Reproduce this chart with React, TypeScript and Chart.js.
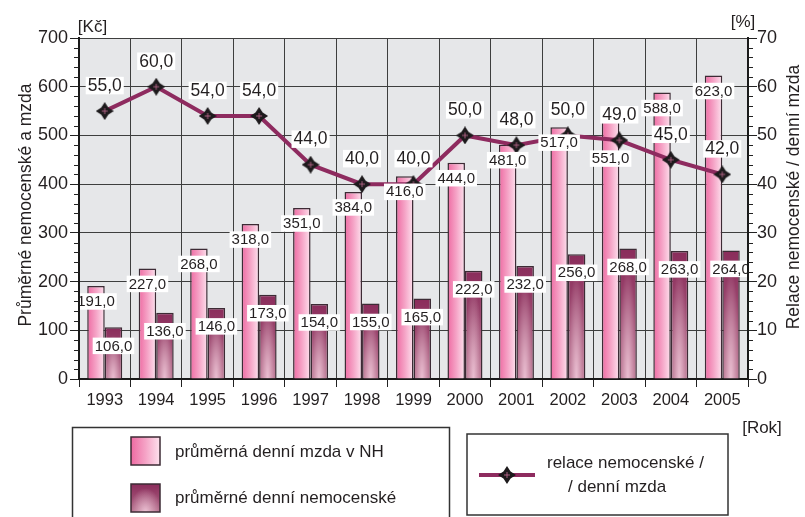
import React, { useEffect, useRef } from 'react';
import { Chart, registerables } from 'chart.js';

Chart.register(...registerables);

// ---- data ----
const years = ['1993', '1994', '1995', '1996', '1997', '1998', '1999', '2000', '2001', '2002', '2003', '2004', '2005'];
const dailyWage = [191, 227, 268, 318, 351, 384, 416, 444, 481, 517, 551, 588, 623];
const sickPay = [106, 136, 146, 173, 154, 155, 165, 222, 232, 256, 268, 263, 264];
const ratio = [55, 60, 54, 54, 44, 40, 40, 50, 48, 50, 49, 45, 42];

const wageName = 'průměrná denní mzda v NH';
const sickName = 'průměrné denní nemocenské';
const ratioNameLines = ['relace nemocenské /', '/ denní mzda'];
const leftTitle = 'Průměrné nemocenské a mzda';
const rightTitle = 'Relace nemocenské / denní mzda';
const leftUnit = '[Kč]';
const rightUnit = '[%]';
const xUnit = '[Rok]';

// ---- styles ----
const FONT = "'Liberation Sans', Arial, Helvetica, sans-serif";
const TEXT = '#231f20';
const CAT_PCT = 0.68;
const LINE_COLOR = '#8e2b5f';
const BAR_BORDER = '#3d2b35';
const GRID = '#3e3e3e';

const fmt = (v: number) => v.toFixed(1).replace('.', ',');

function makeStar(size: number) {
  const c = document.createElement('canvas');
  c.width = size;
  c.height = size;
  const g = c.getContext('2d')!;
  const h = size / 2;
  const k = size * 0.2;
  g.beginPath();
  g.moveTo(h, 0);
  g.lineTo(h + k, h - k);
  g.lineTo(size, h);
  g.lineTo(h + k, h + k);
  g.lineTo(h, size);
  g.lineTo(h - k, h + k);
  g.lineTo(0, h);
  g.lineTo(h - k, h - k);
  g.closePath();
  g.fillStyle = '#1d1a1c';
  g.fill();
  g.strokeStyle = 'rgba(200,110,150,0.8)';
  g.lineWidth = 1;
  g.beginPath();
  g.moveTo(h, h - 3);
  g.lineTo(h, h + 3);
  g.moveTo(h - 3, h);
  g.lineTo(h + 3, h);
  g.stroke();
  return c;
}

function pinkGradient(ctx: CanvasRenderingContext2D, x0: number, x1: number) {
  const gr = ctx.createLinearGradient(x0, 0, x1, 0);
  gr.addColorStop(0, '#ee6aa2');
  gr.addColorStop(0.5, '#f5a3c6');
  gr.addColorStop(1, '#fde2ee');
  return gr;
}

function darkCanvas(W: number, H: number) {
  const off = document.createElement('canvas');
  off.width = Math.max(1, W);
  off.height = Math.max(1, H);
  const g = off.getContext('2d')!;
  const lin = g.createLinearGradient(0, 0, 0, H);
  lin.addColorStop(0, '#8a2c5b');
  lin.addColorStop(1, '#b06886');
  g.fillStyle = lin;
  g.fillRect(0, 0, W, H);
  const rx = W * 0.55;
  const ry = Math.max(H * 0.85, 1);
  g.save();
  g.translate(W / 2, H);
  g.scale(1, ry / rx);
  const rad = g.createRadialGradient(0, 0, 0, 0, 0, rx);
  rad.addColorStop(0, 'rgba(238,196,214,0.95)');
  rad.addColorStop(1, 'rgba(238,196,214,0)');
  g.fillStyle = rad;
  g.fillRect(-rx, -rx, rx * 2, rx * 2);
  g.restore();
  return off;
}

export default function App() {
  const ref = useRef<HTMLCanvasElement>(null);

  useEffect(() => {
    const star = makeStar(18);

    const pinkFill = (c: any) => {
      const chart = c.chart;
      if (!chart.chartArea || !chart.scales.x) return '#f5a3c6';
      const xs = chart.scales.x;
      const center = xs.getPixelForValue(c.dataIndex);
      const w = (xs.width / years.length) * CAT_PCT / 2;
      return pinkGradient(chart.ctx, center - w, center);
    };

    const darkFill = (c: any) => {
      const chart = c.chart;
      if (!chart.chartArea || !chart.scales.x || c.raw == null) return '#9a4470';
      const xs = chart.scales.x;
      const ys = chart.scales.y;
      const center = xs.getPixelForValue(c.dataIndex);
      const w = (xs.width / years.length) * CAT_PCT / 2;
      const top = ys.getPixelForValue(c.raw);
      const bottom = ys.getPixelForValue(0);
      const off = darkCanvas(Math.round(w), Math.round(bottom - top));
      const pat = chart.ctx.createPattern(off, 'no-repeat');
      if (!pat) return '#9a4470';
      pat.setTransform(new DOMMatrix([1, 0, 0, 1, center, top]));
      return pat;
    };

    const drawBox = (ctx: CanvasRenderingContext2D, text: string, x: number, y: number, size: number, boxH: number) => {
      ctx.font = `${size}px ${FONT}`;
      const tw = ctx.measureText(text).width;
      const bw = tw + 4;
      ctx.fillStyle = '#ffffff';
      ctx.fillRect(x - bw / 2, y - boxH / 2, bw, boxH);
      ctx.fillStyle = TEXT;
      ctx.textAlign = 'center';
      ctx.textBaseline = 'middle';
      ctx.fillText(text, x, y + 0.5);
    };

    const decor = {
      id: 'decor',
      beforeDraw(chart: any) {
        const { ctx, chartArea: a } = chart;
        ctx.save();
        ctx.fillStyle = '#ffffff';
        ctx.fillRect(0, 0, chart.width, chart.height);
        ctx.fillStyle = '#e6e7e9';
        ctx.fillRect(a.left, a.top, a.right - a.left, a.bottom - a.top);
        ctx.restore();
      },
      afterDatasetsDraw(chart: any) {
        const { ctx, chartArea: a } = chart;
        ctx.save();
        ctx.beginPath();
        ctx.rect(a.left + 1, a.top, a.right - a.left - 2, a.bottom - a.top);
        ctx.clip();
        const m0 = chart.getDatasetMeta(0);
        m0.data.forEach((el: any, i: number) => {
          const dy = i === 10 ? 48 : 15.5;
          drawBox(ctx, fmt(dailyWage[i]), el.x, el.y + dy, 15, 16.5);
        });
        const m1 = chart.getDatasetMeta(1);
        m1.data.forEach((el: any, i: number) => {
          drawBox(ctx, fmt(sickPay[i]), el.x, el.y + 18.5, 15, 16.5);
        });
        const m2 = chart.getDatasetMeta(2);
        m2.data.forEach((el: any, i: number) => {
          drawBox(ctx, fmt(ratio[i]), el.x, el.y - 25.5, 17.5, 17.5);
        });
        ctx.restore();
      },
      afterDraw(chart: any) {
        const { ctx, chartArea: a } = chart;
        const ys = chart.scales.y;
        const y1 = chart.scales.y1;
        ctx.save();
        ctx.strokeStyle = '#222';
        ctx.lineWidth = 1;
        ctx.beginPath();
        for (let v = 0; v <= 700; v += 20) {
          if (v % 100 === 0) continue;
          const y = Math.round(ys.getPixelForValue(v)) + 0.5;
          ctx.moveTo(a.left - 5, y);
          ctx.lineTo(a.left, y);
        }
        for (let v = 0; v <= 70; v += 2) {
          if (v % 10 === 0) continue;
          const y = Math.round(y1.getPixelForValue(v)) + 0.5;
          ctx.moveTo(a.right, y);
          ctx.lineTo(a.right + 5, y);
        }
        ctx.stroke();

        ctx.fillStyle = TEXT;
        ctx.textBaseline = 'middle';
        ctx.textAlign = 'center';
        ctx.font = `17.5px ${FONT}`;
        ctx.save();
        ctx.translate(26, 205);
        ctx.rotate(-Math.PI / 2);
        ctx.fillText(leftTitle, 0, 0);
        ctx.restore();
        ctx.save();
        ctx.translate(794, 197);
        ctx.rotate(-Math.PI / 2);
        ctx.fillText(rightTitle, 0, 0);
        ctx.restore();
        ctx.font = `17px ${FONT}`;
        ctx.fillText(leftUnit, 92.5, 27);
        ctx.fillText(rightUnit, 743, 22);
        ctx.fillText(xUnit, 762, 428);

        ctx.strokeStyle = '#333';
        ctx.lineWidth = 1.5;
        ctx.strokeRect(72.5, 427.5, 377, 110);
        ctx.strokeRect(467, 434, 261, 81);

        ctx.fillStyle = pinkGradient(ctx, 131, 160);
        ctx.fillRect(131, 437, 29, 28);
        ctx.strokeStyle = BAR_BORDER;
        ctx.lineWidth = 1.5;
        ctx.strokeRect(131, 437, 29, 28);
        ctx.drawImage(darkCanvas(29, 28), 131, 484);
        ctx.strokeRect(131, 484, 29, 28);

        ctx.fillStyle = TEXT;
        ctx.textAlign = 'left';
        ctx.font = `17px ${FONT}`;
        ctx.fillText(wageName, 175, 452);
        ctx.fillText(sickName, 175, 498);

        ctx.strokeStyle = LINE_COLOR;
        ctx.lineWidth = 4;
        ctx.beginPath();
        ctx.moveTo(479, 475);
        ctx.lineTo(535, 475);
        ctx.stroke();
        ctx.drawImage(star, 507 - 9, 475 - 9);
        ctx.fillStyle = TEXT;
        ctx.fillText(ratioNameLines[0], 547, 463);
        ctx.fillText(ratioNameLines[1], 568, 487);
        ctx.restore();
      },
    };

    const chart = new Chart(ref.current!, {
      type: 'bar',
      data: {
        labels: years,
        datasets: [
          {
            type: 'bar',
            label: wageName,
            data: dailyWage,
            yAxisID: 'y',
            backgroundColor: pinkFill,
            borderColor: BAR_BORDER,
            borderWidth: 1.5,
            categoryPercentage: CAT_PCT,
            barPercentage: 1,
            order: 1,
          },
          {
            type: 'bar',
            label: sickName,
            data: sickPay,
            yAxisID: 'y',
            backgroundColor: darkFill,
            borderColor: BAR_BORDER,
            borderWidth: 1.5,
            categoryPercentage: CAT_PCT,
            barPercentage: 1,
            order: 1,
          },
          {
            type: 'line',
            label: ratioNameLines.join(' '),
            data: ratio,
            yAxisID: 'y1',
            borderColor: LINE_COLOR,
            borderWidth: 4,
            pointStyle: star as any,
            pointRadius: 9,
            tension: 0,
            fill: false,
            order: 0,
          } as any,
        ],
      },
      options: {
        responsive: false,
        animation: false,
        devicePixelRatio: 1,
        layout: { padding: { top: 38, left: 0, right: 0, bottom: 0 } },
        plugins: {
          legend: { display: false },
          tooltip: { enabled: false },
        },
        scales: {
          x: {
            offset: true,
            grid: {
              offset: true,
              color: GRID,
              lineWidth: 1,
              tickLength: 8,
              tickColor: '#222',
            },
            border: { color: '#1a1a1a', width: 2 },
            ticks: { color: TEXT, font: { family: FONT, size: 16.5 }, padding: 4, maxRotation: 0 },
            afterFit: (s: any) => {
              s.height = 138;
            },
          },
          y: {
            position: 'left',
            min: 0,
            max: 700,
            ticks: { stepSize: 100, color: TEXT, font: { family: FONT, size: 18 }, padding: 2 },
            grid: { color: GRID, lineWidth: 1, tickLength: 9, tickColor: '#222' },
            border: { color: '#1a1a1a', width: 2 },
            afterFit: (s: any) => {
              s.width = 79;
            },
          },
          y1: {
            position: 'right',
            min: 0,
            max: 70,
            ticks: { stepSize: 10, color: TEXT, font: { family: FONT, size: 18 }, padding: 0 },
            grid: { drawOnChartArea: false, tickLength: 9, tickColor: '#222' },
            border: { color: '#1a1a1a', width: 2 },
            afterFit: (s: any) => {
              s.width = 57;
            },
          },
        },
      },
      plugins: [decor],
    } as any);

    return () => chart.destroy();
  }, []);

  return (
    <div style={{ position: 'absolute', left: 0, top: 0, width: 805, height: 517 }}>
      <canvas ref={ref} width={805} height={517} style={{ display: 'block' }} />
    </div>
  );
}
